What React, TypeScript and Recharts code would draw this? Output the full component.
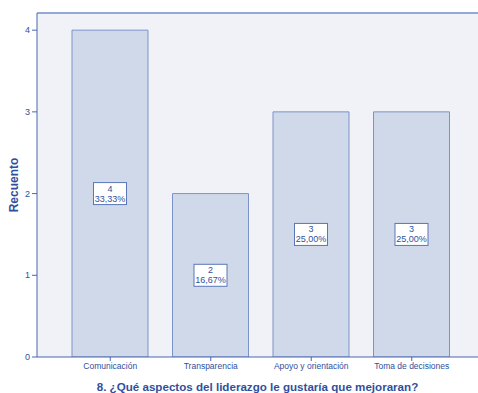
import React from 'react';
import { BarChart, Bar, XAxis, YAxis, CartesianGrid, LabelList, ReferenceLine } from 'recharts';

const categories = ['Comunicación', 'Transparencia', 'Apoyo y orientación', 'Toma de decisiones'];
const counts = [4, 2, 3, 3];
const percentLabels = ['33,33%', '16,67%', '25,00%', '25,00%'];
const yTicks = [0, 1, 2, 3, 4];
const yMax = 4.21;

const data = categories.map((c, i) => ({ name: c, value: counts[i], pct: percentLabels[i] }));

const BLUE = '#2f4f9e';
const AXIS = '#4a66b0';
const FONT = '"Liberation Sans", Arial, sans-serif';

const BarLabel = (props: any) => {
  const { x, y, width, height, index } = props;
  const cx = x + width / 2;
  const cy = y + height / 2;
  const w = 33;
  const h = 22;
  return (
    <g>
      <rect x={cx - w / 2} y={cy - h / 2} width={w} height={h} fill="#ffffff" stroke="#5a76b8" strokeWidth={1} />
      <text x={cx} y={cy - 2} textAnchor="middle" fontSize={9} fill={BLUE} fontFamily={FONT}>
        {String(counts[index])}
      </text>
      <text x={cx} y={cy + 8} textAnchor="middle" fontSize={9} fill={BLUE} fontFamily={FONT}>
        {percentLabels[index]}
      </text>
    </g>
  );
};

const YLabel = (props: any) => {
  const vb = props.viewBox || {};
  const cy = (vb.y || 0) + (vb.height || 0) / 2;
  const cx = 14;
  return (
    <text
      x={cx}
      y={cy}
      transform={`rotate(-90 ${cx} ${cy})`}
      textAnchor="middle"
      dominantBaseline="central"
      fontSize={12}
      fontWeight="bold"
      fill={BLUE}
      fontFamily={FONT}
    >
      Recuento
    </text>
  );
};

export default function App() {
  return (
    <div style={{ position: 'absolute', left: 0, top: 0, width: 478, height: 393, background: '#ffffff' }}>
      <BarChart
        width={478}
        height={393}
        data={data}
        margin={{ top: 13, right: 0, left: 0, bottom: 0 }}
      >
        <CartesianGrid horizontal={false} vertical={false} fill="#f1f2f8" />
        <XAxis
          dataKey="name"
          height={36}
          padding={{ left: 23, right: 16 }}
          tick={{ fontSize: 8.5, fill: BLUE, fontFamily: FONT }}
          tickLine={{ stroke: AXIS }}
          tickSize={4}
          axisLine={{ stroke: AXIS }}
          interval={0}
          label={{
            value: '8. ¿Qué aspectos del liderazgo le gustaría que mejoraran?',
            position: 'insideBottom',
            offset: 2,
            style: { fontSize: 11.6, fontWeight: 'bold', fill: BLUE, fontFamily: FONT },
          }}
        />
        <YAxis
          width={37}
          domain={[0, yMax]}
          ticks={yTicks}
          allowDataOverflow
          tick={{ fontSize: 9, fill: BLUE, fontFamily: FONT }}
          tickLine={{ stroke: AXIS }}
          tickSize={5}
          axisLine={{ stroke: AXIS }}
          label={<YLabel />}
        />
        <ReferenceLine y={yMax} stroke="#93a8d2" strokeWidth={2} />
        <Bar dataKey="value" barSize={76} fill="#d0d9ea" stroke="#7b93c8" strokeWidth={1} isAnimationActive={false}>
          <LabelList dataKey="value" content={BarLabel} />
        </Bar>
      </BarChart>
    </div>
  );
}
